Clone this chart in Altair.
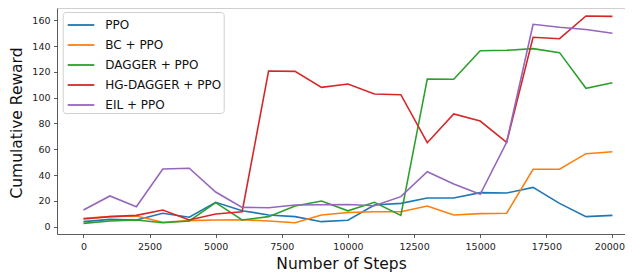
import altair as alt
import pandas as pd

steps = list(range(0, 20001, 1000))
series_names = ["PPO", "BC + PPO", "DAGGER + PPO", "HG-DAGGER + PPO", "EIL + PPO"]
colors = ["#1f77b4", "#ff7f0e", "#2ca02c", "#d62728", "#9467bd"]

ppo = [3.9, 5.7, 5.2, 10.4, 7.3, 18.9, 12.4, 9.1, 7.8, 3.9, 5.0, 16.8, 18.1, 22.2, 22.2, 26.4, 26.1, 30.5, 18.1, 7.8, 8.8]
bc_ppo = [6.5, 7.8, 8.3, 3.4, 4.7, 5.2, 5.4, 4.4, 3.1, 9.1, 11.0, 11.6, 11.6, 16.0, 9.1, 10.1, 10.4, 44.5, 44.5, 56.6, 58.1]
dagger_ppo = [2.6, 4.4, 5.2, 3.1, 4.4, 18.6, 5.2, 7.8, 16.0, 19.9, 12.3, 18.9, 8.8, 114.5, 114.3, 136.4, 136.7, 138.0, 134.9, 107.3, 111.6]
hg_dagger_ppo = [6.0, 7.8, 8.8, 12.9, 5.2, 9.8, 11.6, 120.7, 120.4, 108.0, 110.6, 102.9, 102.3, 65.1, 87.4, 81.9, 65.4, 146.8, 145.7, 163.3, 163.0]
eil_ppo = [12.9, 23.8, 15.5, 44.7, 45.3, 26.9, 15.0, 14.7, 16.8, 17.0, 17.2, 16.2, 23.3, 42.6, 33.1, 25.1, 65.4, 156.9, 154.6, 152.8, 149.9]

x_ticks = [0, 2500, 5000, 7500, 10000, 12500, 15000, 17500, 20000]
y_ticks = [0, 20, 40, 60, 80, 100, 120, 140, 160]

rows = []
for i, (name, vals) in enumerate(zip(series_names, [ppo, bc_ppo, dagger_ppo, hg_dagger_ppo, eil_ppo])):
    for s, v in zip(steps, vals):
        rows.append({"steps": s, "reward": v, "method": name, "order": i})
df = pd.DataFrame(rows)

FONT = "DejaVu Sans"
W, H = 568, 226

lines = alt.Chart(df).mark_line(strokeWidth=1.6).encode(
    x=alt.X("steps:Q",
            scale=alt.Scale(domain=[-1000, 20475], nice=False, zero=False),
            axis=alt.Axis(values=x_ticks, format="d", title="Number of Steps",
                          labelFontSize=9.5, labelPadding=4, labelColor="#222",
                          tickSize=3.5, tickWidth=0.8, tickColor="#333",
                          domainColor="#333", domainWidth=0.8,
                          titleFontSize=15.5, titleFontWeight="normal", titleColor="#111",
                          titleBaseline="alphabetic", titleY=34.7, grid=False,
                          labelFlush=15, labelFlushOffset=12)),
    y=alt.Y("reward:Q",
            scale=alt.Scale(domain=[-5.66, 169.5], nice=False, zero=False),
            axis=alt.Axis(values=y_ticks, title="Cumulative Reward",
                          labelFontSize=9.5, labelPadding=3.5, labelColor="#222",
                          tickSize=3.5, tickWidth=0.8, tickColor="#333",
                          domainColor="#333", domainWidth=0.8,
                          titleFontSize=15.5, titleFontWeight="normal", titleColor="#111",
                          titleAngle=270, titleBaseline="alphabetic",
                          titleX=-35.3, titleY=114.5, grid=False, labelFlush=False)),
    color=alt.Color("method:N",
                    scale=alt.Scale(domain=series_names, range=colors),
                    legend=alt.Legend(title=None, orient="none", legendX=5.7, legendY=4.0,
                                      symbolType="M-1.33,0L1.33,0", symbolSize=400,
                                      symbolStrokeWidth=1.8, symbolOffset=5.3,
                                      labelOffset=13.3, labelFontSize=12, labelColor="#111",
                                      padding=2, rowPadding=3,
                                      fillColor="rgba(255,255,255,0.8)", strokeColor="#d0d0d0",
                                      cornerRadius=3)),
    order=alt.Order("order:Q"),
    detail="method:N",
)

top_spine = alt.Chart(pd.DataFrame({"k": [0]})).mark_rule(color="#888", strokeWidth=0.8).encode(
    x=alt.value(0), x2=alt.value(W), y=alt.value(0)
)

chart = alt.layer(lines, top_spine).properties(
    width=W, height=H,
    autosize=alt.AutoSizeParams(type="none"),
    padding={"left": 49, "top": 0, "right": 0, "bottom": 40},
).configure(font=FONT).configure_view(stroke=None)

chart.save("out.html", embed_options={"renderer": "svg", "actions": False})
